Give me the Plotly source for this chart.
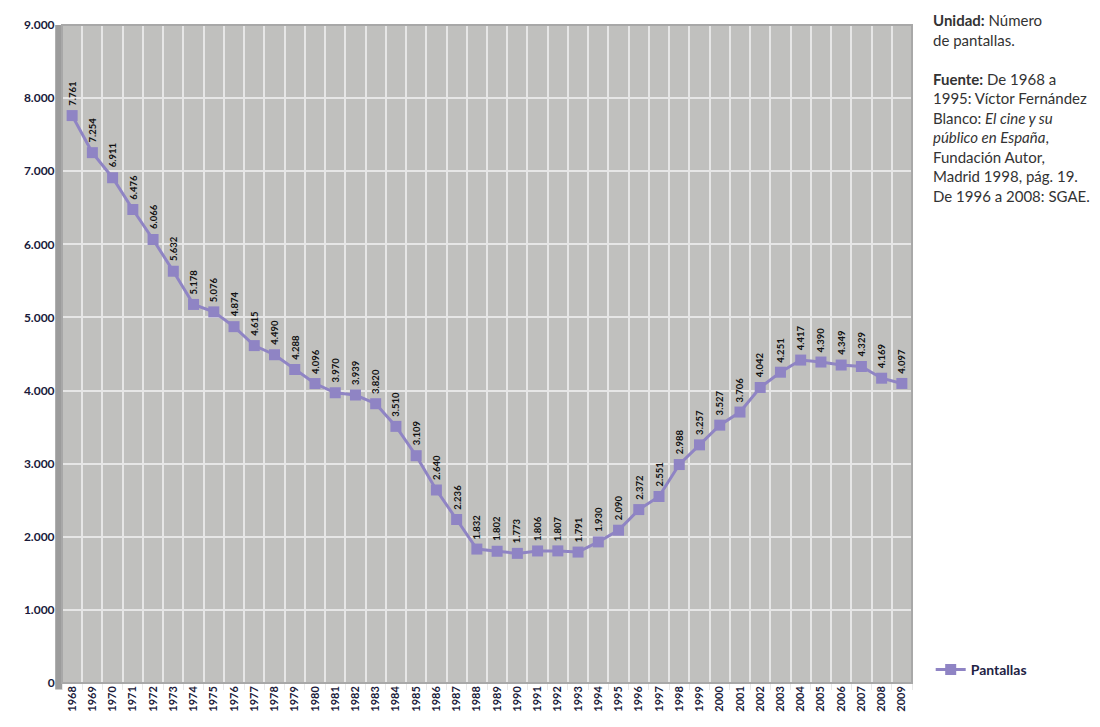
import plotly.graph_objects as go

years = [str(y) for y in range(1968, 2010)]
pantallas = [7761, 7254, 6911, 6476, 6066, 5632, 5178, 5076, 4874, 4615,
             4490, 4288, 4096, 3970, 3939, 3820, 3510, 3109, 2640, 2236,
             1832, 1802, 1773, 1806, 1807, 1791, 1930, 2090, 2372, 2551,
             2988, 3257, 3527, 3706, 4042, 4251, 4417, 4390, 4349, 4329,
             4169, 4097]
y_ticks = [0, 1000, 2000, 3000, 4000, 5000, 6000, 7000, 8000, 9000]

def fmt(v):
    return f"{v:,}".replace(",", ".")

LINE = "#8f84c4"
FONT = "Lato, 'Open Sans', sans-serif"

fig = go.Figure()
fig.add_trace(go.Scatter(
    x=years, y=pantallas, mode="lines+markers", name="Pantallas",
    line=dict(color=LINE, width=3),
    marker=dict(symbol="square", size=11, color=LINE),
))

annotations = []
for i, v in enumerate(pantallas):
    annotations.append(dict(
        x=i, y=v, xref="x", yref="y", text=fmt(v), showarrow=False,
        textangle=-90, yanchor="bottom", xanchor="center", yshift=8,
        font=dict(family=FONT, size=9.5, color="#111111", weight="bold"),
    ))

annotations.append(dict(
    xref="paper", yref="paper", x=1.022, y=1.024, xanchor="left", yanchor="top",
    align="left", showarrow=False,
    text=("<b>Unidad:</b> Número<br>de pantallas.<br><br>"
          "<b>Fuente:</b> De 1968 a<br>1995: Víctor Fernández<br>"
          "Blanco: <i>El cine y su</i><br><i>público en España</i>,<br>"
          "Fundación Autor,<br>Madrid 1998, pág. 19.<br>De 1996 a 2008: SGAE."),
    font=dict(family=FONT, size=15, color="#333333"),
))

shapes = [
    dict(type="rect", xref="paper", yref="paper", x0=-0.008, x1=0.0, y0=-0.01, y1=1.0,
         fillcolor="#9c9c9c", line=dict(width=0), layer="below"),
    dict(type="rect", xref="paper", yref="paper", x0=0, x1=1, y0=0, y1=1,
         line=dict(color="#a8a8a8", width=2), layer="above"),
]

fig.update_layout(
    width=1092, height=719,
    margin=dict(l=54, r=188, t=9, b=44),
    paper_bgcolor="white", plot_bgcolor="#c0c0be",
    separators=",.",
    font=dict(family=FONT, size=12, color="#1a1a3a"),
    showlegend=True,
    legend=dict(x=1.022, y=0.02, xanchor="left", yanchor="middle",
                bgcolor="rgba(0,0,0,0)",
                font=dict(family=FONT, size=14, color="#222244", weight="bold")),
    xaxis=dict(type="category", tickangle=-90, tickson="boundaries",
               showgrid=True, gridcolor="#e6e6e6", gridwidth=1.5,
               ticks="outside", ticklen=6, tickcolor="#e8e8e8",
               range=[-0.5, len(years) - 0.5],
               tickfont=dict(family=FONT, size=11, color="#1a1a3a", weight="bold"),
               showline=False, zeroline=False),
    yaxis=dict(range=[0, 9000], tickvals=y_ticks, tickformat=",d",
               showgrid=True, gridcolor="#e6e6e6", gridwidth=2,
               zeroline=False, ticks="outside", ticklen=4, tickcolor="rgba(0,0,0,0)",
               tickfont=dict(family=FONT, size=12, color="#1a1a3a", weight="bold"),
               showline=False),
    annotations=annotations,
    shapes=shapes,
)

fig.write_html("out.html")
